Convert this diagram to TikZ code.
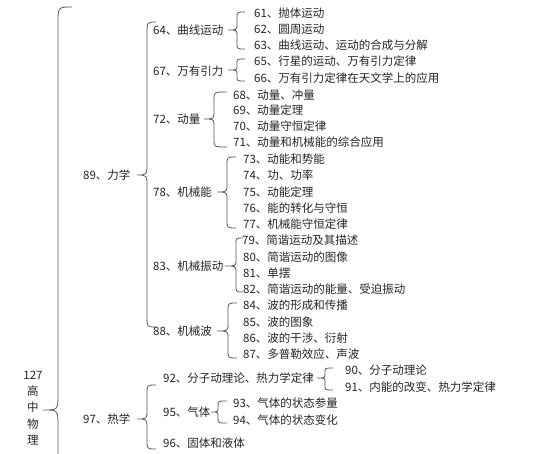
\documentclass[tikz,border=0pt]{standalone}
\usepackage{fontspec}
\setmainfont{Noto Sans CJK SC}
\tikzset{
  txt/.style={anchor=west, inner sep=0pt, font=\fontsize{11.5}{14}\selectfont, text=black!85},
  leaf/.style={txt},
  lvtwo/.style={txt},
  lvone/.style={txt},
  brc/.style={draw=black!65, line width=0.8pt}
}
% #1 xr, #2 xm, #3 xt, #4 ytop, #5 ytip, #6 ybot, #7 r
\newcommand\curlyb[7]{%
  \draw[brc] (#1,#4) .. controls (#2,#4) .. (#2,#4+#7) -- (#2,#5-#7)
    .. controls (#2,#5) .. (#3,#5) .. controls (#2,#5) .. (#2,#5+#7)
    -- (#2,#6-#7) .. controls (#2,#6) .. (#1,#6);}
\begin{document}
\begin{tikzpicture}[x=1pt,y=-1pt]
\useasboundingbox (0,0) rectangle (556,454);
\clip (0,0) rectangle (556,454);
\fill[white] (0,0) rectangle (556,454);

% root
\node[inner sep=0pt, align=center, font=\fontsize{11.5}{16.3}\selectfont, text=black!85] (root) at (33,408) {127\\高\\中\\物\\理};
\curlyb{72}{58}{43}{7}{410}{540}{16}

% level one
\node[lvone] (n89) at (83,175) {89、力学};
\curlyb{156}{147}{137}{22}{175}{327}{12}
\node[lvone] (n97) at (83,419) {97、热学};
\curlyb{156}{147}{137}{385}{419}{449}{9}

% level two under mechanics
\node[lvtwo] (n64) at (153,30) {64、曲线运动};
\curlyb{245}{237}{228}{12}{30}{49}{6}
\node[leaf] (n61) at (254,13) {61、抛体运动};
\node[leaf] (n62) at (254,29) {62、圆周运动};
\node[leaf] (n63) at (254,45) {63、曲线运动、运动的合成与分解};

\node[lvtwo] (n67) at (153,71) {67、万有引力};
\curlyb{245}{237}{228}{59}{70}{81}{4.5}
\node[leaf] (n65) at (254,61) {65、行星的运动、万有引力定律};
\node[leaf] (n66) at (254,78) {66、万有引力定律在天文学上的应用};

\node[lvtwo] (n72) at (153,119) {72、动量};
\curlyb{227}{214}{204}{92}{119}{147}{8}
\node[leaf] (n68) at (233,95) {68、动量、冲量};
\node[leaf] (n69) at (233,110) {69、动量定理};
\node[leaf] (n70) at (233,126) {70、动量守恒定律};
\node[leaf] (n71) at (233,142) {71、动量和机械能的综合应用};

\node[lvtwo] (n78) at (153,192) {78、机械能};
\curlyb{236}{227}{217}{157}{192}{228}{8}
\node[leaf] (n73) at (243,159) {73、动能和势能};
\node[leaf] (n74) at (243,175) {74、功、功率};
\node[leaf] (n75) at (243,192) {75、动能定理};
\node[leaf] (n76) at (243,208) {76、能的转化与守恒};
\node[leaf] (n77) at (243,224) {77、机械能守恒定律};

\node[lvtwo] (n83) at (153,266) {83、机械振动};
\curlyb{243}{236}{225}{238}{266}{292}{6}
\node[leaf] (n79) at (242,240) {79、简谐运动及其描述};
\node[leaf] (n80) at (243,257) {80、简谐运动的图像};
\node[leaf] (n81) at (243,273) {81、单摆};
\node[leaf] (n82) at (243,289) {82、简谐运动的能量、受迫振动};

\node[lvtwo] (n88) at (153,331) {88、机械波};
\curlyb{237}{228}{217}{303}{331}{358}{8}
\node[leaf] (n84) at (243,305) {84、波的形成和传播};
\node[leaf] (n85) at (243,322) {85、波的图象};
\node[leaf] (n86) at (243,338) {86、波的干涉、衍射};
\node[leaf] (n87) at (243,354) {87、多普勒效应、声波};

% level two under heat
\node[lvtwo] (n92) at (163,378) {92、分子动理论、热力学定律};
\curlyb{333}{325}{317}{368}{378}{390}{4.5}
\node[leaf] (n90) at (345,370) {90、分子动理论};
\node[leaf] (n91) at (345,387) {91、内能的改变、热力学定律};

\node[lvtwo] (n95) at (163,412) {95、气体};
\curlyb{227}{218}{211}{401}{412}{423}{5}
\node[leaf] (n93) at (233,403) {93、气体的状态参量};
\node[leaf] (n94) at (233,420) {94、气体的状态变化};

\node[lvtwo] (n96) at (163,443) {96、固体和液体};
\end{tikzpicture}
\end{document}
